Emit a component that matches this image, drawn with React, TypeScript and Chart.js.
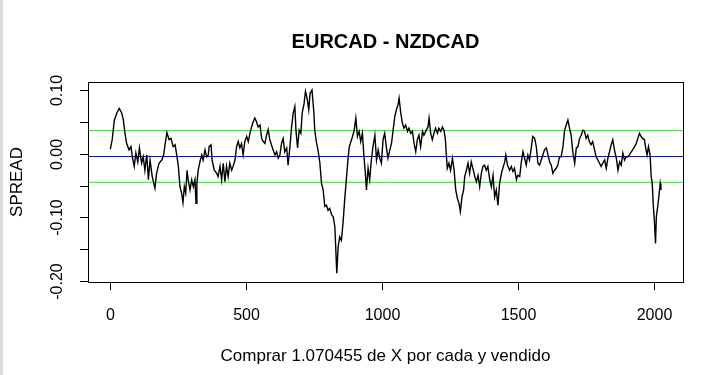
import React, { useEffect, useRef } from "react";
import { Chart, registerables } from "chart.js";

Chart.register(...registerables);

const TITLE = "EURCAD - NZDCAD";
const X_LABEL = "Comprar 1.070455 de X por cada y vendido";
const Y_LABEL = "SPREAD";

const X_TICKS = [0, 500, 1000, 1500, 2000];
const X_TICK_LABELS = ["0", "500", "1000", "1500", "2000"];
const Y_TICKS = [0.1, 0.05, 0.0, -0.05, -0.1, -0.15, -0.2];
const Y_TICK_LABELS = ["0.10", "", "0.00", "", "-0.10", "", "-0.20"];

const X_MIN = -80.9;
const X_MAX = 2104.9;
const Y_MIN = -0.2016;
const Y_MAX = 0.1126;

const MEAN_LEVEL = -0.0045;
const UPPER_LEVEL = 0.0362;
const LOWER_LEVEL = -0.045;

const X_IDX = [
  1, 8, 16, 25, 34, 43, 49, 55, 61, 70, 77, 82, 89, 95, 102, 108, 116, 122, 128, 135, 141, 147, 155, 165, 171, 180, 190, 197, 202, 209, 217, 224, 232, 239, 245, 251, 257, 263, 268, 273, 278, 283, 287,
  294, 300, 306, 312, 316, 319, 324, 330, 337, 342, 349, 355, 361, 364, 371, 375, 383, 392, 397, 404, 410, 416, 422, 428, 434, 440, 447, 452, 459, 465, 471, 477, 483, 489, 495, 502, 508, 514, 520, 526, 532, 538, 544, 551, 557, 563, 569,
  575, 581, 587, 593, 599, 606, 612, 618, 624, 630, 636, 642, 649, 654, 661, 667, 673, 679, 683, 689, 695, 701, 706, 713, 718, 724, 730, 735, 742, 749, 752, 759, 764, 771, 777, 783, 789, 795, 801, 807, 814, 820, 826, 829, 833, 838, 844, 850, 856, 862,
  869, 875, 879, 885, 891, 897, 903, 909, 915, 921, 927, 933, 938, 942, 948, 954, 960, 966, 973, 979, 985, 991, 997, 1003, 1009, 1015, 1021, 1028, 1034, 1040, 1046, 1052, 1058, 1062, 1068, 1074, 1080, 1086, 1093, 1098, 1105, 1111, 1117, 1123, 1129, 1135, 1141, 1148, 1153,
  1162, 1168, 1172, 1178, 1184, 1190, 1196, 1203, 1208, 1215, 1221, 1227, 1232, 1236, 1239, 1245, 1251, 1258, 1264, 1270, 1276, 1282, 1287, 1293, 1299, 1303, 1309, 1315, 1321, 1327, 1333, 1340, 1346, 1352, 1358, 1364, 1370, 1376, 1382, 1388, 1395, 1401, 1407, 1413, 1419, 1425, 1431, 1438, 1443, 1450, 1454, 1460,
  1468, 1474, 1480, 1486, 1493, 1498, 1505, 1511, 1517, 1523, 1529, 1535, 1541, 1548, 1553, 1560, 1566, 1572, 1578, 1584, 1590, 1596, 1603, 1609, 1615, 1621, 1627, 1633, 1639, 1645, 1651, 1657, 1664, 1670, 1676, 1682, 1688, 1694, 1700, 1707, 1713, 1719, 1725, 1731, 1737,
  1743, 1749, 1755, 1761, 1767, 1773, 1780, 1786, 1792, 1798, 1804, 1810, 1817, 1823, 1829, 1835, 1841, 1847, 1853, 1860, 1866, 1872, 1878, 1884, 1890, 1896, 1902, 1908, 1915, 1920, 1927, 1933, 1939, 1945, 1951, 1957, 1963, 1969, 1973, 1978, 1984, 1988, 1992, 1996, 2000, 2004, 2007, 2012, 2016, 2021, 2024,
];

const SPREAD = [
  0.007, 0.022, 0.053, 0.064, 0.071, 0.064, 0.053, 0.032, 0.016, 0.006, 0.011, -0.005, -0.02, 0.001, -0.013, 0.009, -0.015, -0.005, -0.026, -0.002, -0.041, -0.01, -0.036, -0.054, -0.031, -0.015, -0.01, -0.002, 0.014, 0.033, 0.022, 0.024, 0.011, 0.014, -0.002, -0.02, -0.052, -0.062, -0.077, -0.052, -0.062, -0.026, -0.041,
  -0.057, -0.041, -0.052, -0.041, -0.078, -0.047, -0.026, -0.013, -0.002, -0.01, 0.006, -0.005, -0.002, 0.011, 0.014, -0.01, -0.026, -0.031, -0.036, -0.02, -0.041, -0.015, -0.044, -0.02, -0.036, -0.015, -0.026, -0.02, -0.01, 0.011, 0.019, 0.009, 0.016, -0.002, 0.019, 0.027, 0.019, 0.032, 0.042, 0.05, 0.056, 0.05, 0.042, 0.045, 0.024, 0.019, 0.016,
  0.029, 0.038, 0.022, 0.014, 0.006, -0.002, 0.003, -0.007, -0.002, 0.016, 0.024, 0.003, 0.009, -0.018, 0.011, 0.042, 0.064, 0.074, 0.037, 0.009, 0.037, 0.032, 0.064, 0.079, 0.098, 0.087, 0.069, 0.095, 0.1, 0.064, 0.037, 0.016, 0.006, -0.015, -0.047, -0.057, -0.083, -0.081, -0.089, -0.086, -0.096, -0.099, -0.115, -0.146, -0.188, -0.146, -0.131, -0.136, -0.109, -0.073,
  -0.036, -0.005, 0.011, 0.019, 0.027, 0.037, 0.056, 0.027, 0.035, 0.019, 0.032, -0.005, -0.031, -0.057, -0.023, -0.041, -0.01, 0.011, 0.029, -0.01, 0.006, -0.007, -0.015, 0.022, 0.032, 0.011, -0.007, 0.006, 0.016, 0.037, 0.058, 0.069, 0.077, 0.087, 0.064, 0.048, 0.04, 0.045, 0.035, 0.04, 0.032, 0.035, 0.016, 0.003, 0.022, 0.029, 0.011, 0.035, 0.029,
  0.037, 0.042, 0.056, 0.032, 0.022, 0.032, 0.04, 0.032, 0.04, 0.035, 0.042, 0.037, 0.022, -0.005, -0.023, -0.015, -0.026, -0.007, -0.026, -0.057, -0.07, -0.078, -0.091, -0.068, -0.057, -0.036, -0.026, -0.015, -0.031, -0.013, -0.023, -0.036, -0.044, -0.034, -0.052, -0.031, -0.02, -0.018, -0.026, -0.02, -0.041, -0.052, -0.034, -0.068, -0.057, -0.081, -0.047, -0.031, -0.023, -0.013, -0.002, -0.018,
  -0.026, -0.02, -0.028, -0.023, -0.041, -0.034, -0.036, -0.013, 0.003, -0.007, -0.018, -0.002, -0.01, 0.011, 0.027, 0.024, 0.011, -0.015, -0.018, -0.01, -0.002, 0.006, 0.009, -0.002, -0.013, -0.018, -0.031, -0.026, -0.023, -0.018, -0.005, -0.005, 0.011, 0.037, 0.045, 0.053, 0.04, 0.029, 0.003, -0.015, 0.009, 0.011, 0.024, 0.029, 0.037,
  0.035, 0.024, 0.029, 0.019, 0.014, 0.019, 0.006, -0.005, -0.01, -0.015, -0.02, -0.015, -0.01, -0.023, -0.007, 0.003, 0.014, 0.022, 0.006, -0.007, -0.026, -0.013, -0.018, 0.001, -0.01, -0.005, -0.005, -0.002, 0.003, 0.006, 0.011, 0.016, 0.024, 0.032, 0.027, 0.024, 0.022, 0.006, -0.002, 0.011, -0.002, -0.036, -0.047, -0.083, -0.107, -0.141, -0.099, -0.083, -0.068, -0.047, -0.057,
];

const FONT = '"Liberation Sans", Arial, Helvetica, sans-serif';

const rBasePlot = {
  id: "rBasePlot",
  afterDraw(chart: any) {
    const ctx = chart.ctx as CanvasRenderingContext2D;
    const { left, right, top, bottom } = chart.chartArea;
    const xs = chart.scales.x;
    const ys = chart.scales.y;
    ctx.save();
    // screenshot edge
    ctx.fillStyle = "#dcdce2";
    ctx.fillRect(0, 0, 3, chart.height);

    ctx.strokeStyle = "#000";
    ctx.lineWidth = 1;
    // box
    ctx.strokeRect(Math.round(left) + 0.5, Math.round(top) + 0.5, Math.round(right - left), Math.round(bottom - top));

    ctx.fillStyle = "#000";
    // x ticks
    ctx.font = `16px ${FONT}`;
    ctx.textAlign = "center";
    ctx.textBaseline = "middle";
    X_TICKS.forEach((v, i) => {
      const px = Math.round(xs.getPixelForValue(v)) + 0.5;
      ctx.beginPath();
      ctx.moveTo(px, bottom);
      ctx.lineTo(px, bottom + 8);
      ctx.stroke();
      ctx.fillText(X_TICK_LABELS[i], px, bottom + 34);
    });
    // y ticks
    Y_TICKS.forEach((v, i) => {
      const py = Math.round(ys.getPixelForValue(v)) + 0.5;
      ctx.beginPath();
      ctx.moveTo(left - 8, py);
      ctx.lineTo(left, py);
      ctx.stroke();
      if (Y_TICK_LABELS[i]) {
        ctx.save();
        ctx.translate(58, py);
        ctx.rotate(-Math.PI / 2);
        ctx.fillText(Y_TICK_LABELS[i], 0, 0);
        ctx.restore();
      }
    });
    const cx = (left + right) / 2;
    const cy = (top + bottom) / 2;
    // axis labels
    ctx.font = `17px ${FONT}`;
    ctx.fillText(X_LABEL, cx, 356);
    ctx.save();
    ctx.translate(17, cy);
    ctx.rotate(-Math.PI / 2);
    ctx.fillText(Y_LABEL, 0, 0);
    ctx.restore();
    // title
    ctx.font = `bold 20px ${FONT}`;
    ctx.fillText(TITLE, cx, 42);
    ctx.restore();
  },
};

export default function App() {
  const ref = useRef<HTMLCanvasElement | null>(null);
  useEffect(() => {
    if (!ref.current) return;
    const levelLine = (y: number, color: string) => ({
      data: [
        { x: X_MIN, y },
        { x: X_MAX, y },
      ],
      borderColor: color,
      borderWidth: 1,
      pointRadius: 0,
      tension: 0,
    });
    const chart = new Chart(ref.current, {
      type: "line",
      data: {
        datasets: [
          {
            data: X_IDX.map((x, i) => ({ x, y: SPREAD[i] })),
            borderColor: "#000",
            borderWidth: 1.4,
            pointRadius: 0,
            tension: 0,
          },
          levelLine(MEAN_LEVEL, "#0000ff"),
          levelLine(UPPER_LEVEL, "#00ff00"),
          levelLine(LOWER_LEVEL, "#00ff00"),
        ],
      },
      options: {
        animation: false,
        responsive: false,
        devicePixelRatio: 1,
        layout: { padding: { left: 88, right: 42, top: 82, bottom: 93 } },
        scales: {
          x: { type: "linear", min: X_MIN, max: X_MAX, display: false },
          y: { type: "linear", min: Y_MIN, max: Y_MAX, display: false },
        },
        plugins: { legend: { display: false }, tooltip: { enabled: false }, title: { display: false } },
      },
      plugins: [rBasePlot],
    });
    return () => chart.destroy();
  }, []);
  return (
    <div style={{ position: "absolute", left: 0, top: 0, width: 725, height: 375, background: "#fff" }}>
      <canvas ref={ref} width={725} height={375} style={{ width: 725, height: 375 }} />
    </div>
  );
}
